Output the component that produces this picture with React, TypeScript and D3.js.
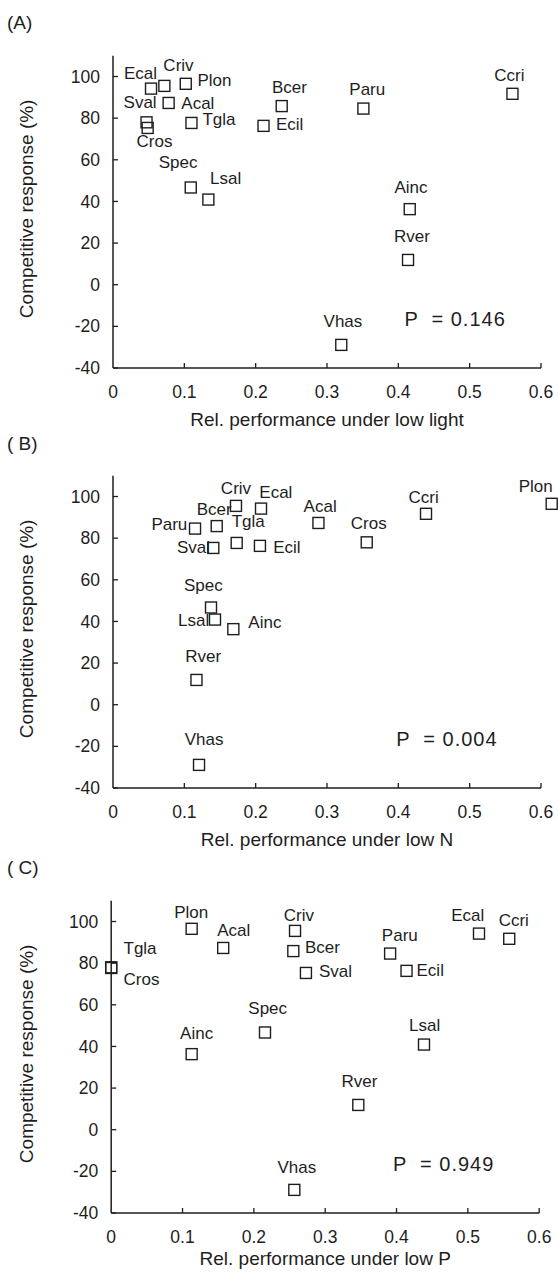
import React from "react";
import * as d3 from "d3";

// ---------- DATA ----------
const species = ["Acal","Ainc","Bcer","Ccri","Criv","Cros","Ecal","Ecil","Lsal","Paru","Plon","Rver","Spec","Sval","Tgla","Vhas"];
const response = [87.3, 36.3, 85.8, 91.7, 95.5, 78.0, 94.2, 76.3, 40.9, 84.6, 96.5, 11.9, 46.7, 75.3, 77.7, -28.9];
const xLight = [0.078, 0.416, 0.2365, 0.560, 0.072, 0.047, 0.0533, 0.211, 0.1337, 0.351, 0.102, 0.4136, 0.109, 0.0486, 0.110, 0.320];
const xN = [0.288, 0.1687, 0.1454, 0.4388, 0.1724, 0.3557, 0.2075, 0.206, 0.143, 0.115, 0.615, 0.117, 0.1374, 0.1406, 0.1734, 0.1206];
const xP = [0.157, 0.1128, 0.2553, 0.558, 0.2577, 0.0, 0.5156, 0.414, 0.4385, 0.391, 0.1128, 0.3464, 0.2156, 0.273, 0.0, 0.2567];
const xTicks = [0, 0.1, 0.2, 0.3, 0.4, 0.5, 0.6];
const xTickLabels = ["0", "0.1", "0.2", "0.3", "0.4", "0.5", "0.6"];
const yTicks = [-40, -20, 0, 20, 40, 60, 80, 100];
const panelLetters = ["(A)", "( B)", "( C)"];
const xTitles = ["Rel. performance under low light", "Rel. performance under low N", "Rel. performance under low P"];
const yTitle = "Competitive response (%)";
const pValues = ["0.146", "0.004", "0.949"];

// ---------- LAYOUT ----------
type LP = [string, number, number];
const labelsA: Record<string, LP> = {
  Acal: ["start", 12.7, 6], Ainc: ["middle", 1.3, -16], Bcer: ["middle", 7.8, -12.7], Ccri: ["middle", -3, -12.7],
  Criv: ["start", -1, -15], Cros: ["middle", 8, 25], Ecal: ["end", 6, -10], Ecil: ["start", 12.4, 4.3],
  Lsal: ["start", 1.7, -15.7], Paru: ["middle", 3.9, -14], Plon: ["start", 11.7, 1.7], Rver: ["middle", 4, -18],
  Spec: ["middle", -12.6, -19.4], Sval: ["end", 9, -20], Tgla: ["start", 11, 2], Vhas: ["middle", 1.7, -18],
};
const labelsB: Record<string, LP> = {
  Acal: ["middle", 1.7, -11.3], Ainc: ["start", 15, -1.6], Bcer: ["end", 15, -11], Ccri: ["middle", -2.3, -11],
  Criv: ["middle", 0, -12], Cros: ["middle", 2, -13.3], Ecal: ["start", -1.7, -10.7], Ecil: ["start", 13.3, 6.7],
  Lsal: ["end", -5.7, 6.7], Paru: ["end", -7.7, 1], Plon: ["middle", -16, -12], Rver: ["middle", 6.8, -18.3],
  Spec: ["middle", -7.7, -16], Sval: ["end", -3.3, 5], Tgla: ["start", -5, -16], Vhas: ["middle", 5, -20],
};
const labelsC: Record<string, LP> = {
  Acal: ["start", -6, -12.3], Ainc: ["middle", 5, -15], Bcer: ["start", 11.7, 1.6], Ccri: ["middle", 4.5, -13.3],
  Criv: ["middle", 3.8, -9.7], Cros: ["start", 12.3, 18], Ecal: ["middle", -11.3, -12.6], Ecil: ["start", 10, 5],
  Lsal: ["middle", 0.7, -13.3], Paru: ["middle", 9.7, -12.6], Plon: ["middle", -0.5, -10.7], Rver: ["middle", 1.2, -18.3],
  Spec: ["middle", 2.7, -18.3], Sval: ["start", 13, 4], Tgla: ["start", 12.3, -13.7], Vhas: ["middle", 2.5, -16.7],
};

const panels = [
  { xs: xLight, labels: labelsA, x0: 113, bottom: 368, letterY: 29, titleY: 426, pX: 0.4085 },
  { xs: xN, labels: labelsB, x0: 113, bottom: 788, letterY: 450, titleY: 846, pX: 0.397 },
  { xs: xP, labels: labelsC, x0: 111.2, bottom: 1213, letterY: 874, titleY: 1265, pX: 0.395 },
];

const W = 558, H = 1278;
const FONT = "'Liberation Sans', Arial, Helvetica, sans-serif";
const INK = "#1e1e1e";
const SQ = 11;

function Panel({ idx }: { idx: number }) {
  const p = panels[idx];
  const x = d3.scaleLinear().domain([0, 0.6]).range([p.x0, p.x0 + 428]);
  const y = d3.scaleLinear().domain([-40, 110]).range([p.bottom, p.bottom - 150 * 2.082]);
  const midY = y(35) - 3;
  return (
    <g>
      <text x={7} y={p.letterY} fontSize={19} fill={INK} style={{ whiteSpace: "pre" }}>{panelLetters[idx]}</text>
      <line x1={x(0)} x2={x(0)} y1={y(110)} y2={y(-40)} stroke={INK} strokeWidth={1.5} />
      <line x1={x(0)} x2={x(0.6)} y1={y(-40)} y2={y(-40)} stroke={INK} strokeWidth={1.5} />
      {yTicks.map((t) => (
        <g key={"y" + t}>
          <line x1={x(0)} x2={x(0) + 5} y1={y(t)} y2={y(t)} stroke={INK} strokeWidth={1.3} />
          <text x={x(0) - 13} y={y(t)} dy="0.35em" textAnchor="end" fontSize={17.5} fill={INK}>{t}</text>
        </g>
      ))}
      {xTicks.map((t, i) => (
        <g key={"x" + t}>
          {i > 0 && <line x1={x(t)} x2={x(t)} y1={y(-40)} y2={y(-40) - 5} stroke={INK} strokeWidth={1.3} />}
          <text x={x(t)} y={y(-40) + 30} textAnchor="middle" fontSize={17.5} fill={INK}>{xTickLabels[i]}</text>
        </g>
      ))}
      <text x={x(0.3)} y={p.titleY} textAnchor="middle" fontSize={19} fill={INK}>{xTitles[idx]}</text>
      <text transform={`translate(33,${midY}) rotate(-90)`} textAnchor="middle" fontSize={19} fill={INK}>{yTitle}</text>
      {species.map((s, i) => {
        const cx = x(p.xs[i]);
        const cy = y(response[i]);
        const lp = p.labels[s];
        return (
          <g key={s}>
            <rect x={cx - SQ / 2} y={cy - SQ / 2} width={SQ} height={SQ} fill="none" stroke={INK} strokeWidth={1.4} />
            <text x={cx + lp[1]} y={cy + lp[2]} textAnchor={lp[0] as any} fontSize={17} fill={INK}>{s}</text>
          </g>
        );
      })}
      <text x={x(p.pX)} y={y(-20)} fontSize={20} letterSpacing={1} fill={INK} style={{ whiteSpace: "pre" }}>{"P  = " + pValues[idx]}</text>
    </g>
  );
}

export default function App() {
  return (
    <svg width={W} height={H} viewBox={`0 0 ${W} ${H}`} style={{ position: "absolute", left: 0, top: 0, background: "#fff" }} fontFamily={FONT}>
      <rect width={W} height={H} fill="#fff" />
      {panels.map((_, i) => <Panel key={i} idx={i} />)}
    </svg>
  );
}
